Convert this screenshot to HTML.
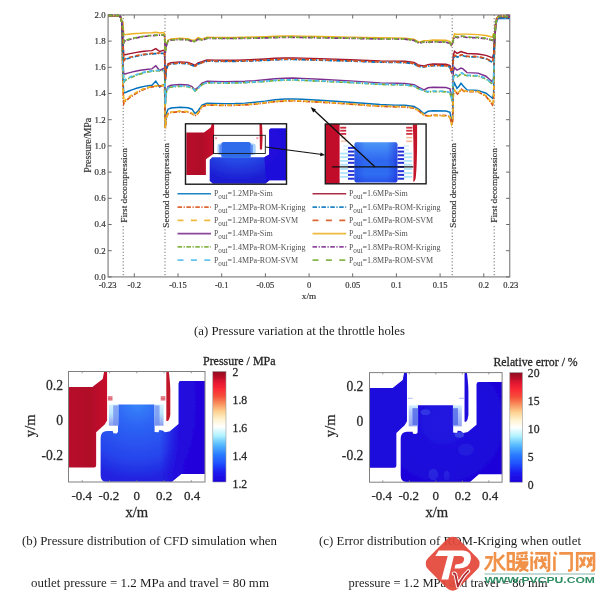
<!DOCTYPE html>
<html><head><meta charset="utf-8"><title>figure</title>
<style>
html,body{margin:0;padding:0;background:#fff;}
body{width:600px;height:595px;overflow:hidden;font-family:"Liberation Serif",serif;}
svg{display:block;font-family:"Liberation Serif",serif;}
</style></head><body>
<svg width="600" height="595" viewBox="0 0 600 595">
<defs>
<filter id="soft" x="0" y="0" width="600" height="595" filterUnits="userSpaceOnUse"><feGaussianBlur stdDeviation="0.45"/></filter>
<linearGradient id="cbB" x1="0" y1="0" x2="0" y2="1">
<stop offset="0" stop-color="#8e0a20"/><stop offset="0.04" stop-color="#b00c26"/><stop offset="0.10" stop-color="#e41830"/>
<stop offset="0.16" stop-color="#fb2c36"/><stop offset="0.22" stop-color="#f64c38"/><stop offset="0.29" stop-color="#f88f5c"/>
<stop offset="0.36" stop-color="#fdd090"/><stop offset="0.43" stop-color="#fff2cc"/><stop offset="0.50" stop-color="#ffffff"/>
<stop offset="0.58" stop-color="#b0f2ff"/><stop offset="0.66" stop-color="#58bcff"/><stop offset="0.75" stop-color="#2a7cff"/>
<stop offset="0.83" stop-color="#2052ff"/><stop offset="0.91" stop-color="#1a1cf0"/><stop offset="1" stop-color="#1c00dc"/></linearGradient>
<radialGradient id="bodyB" cx="0.35" cy="0.22" r="0.75" gradientUnits="objectBoundingBox">
<stop offset="0" stop-color="#3787fa"/><stop offset="0.3" stop-color="#2d64f4"/><stop offset="0.75" stop-color="#2744ec"/><stop offset="1" stop-color="#2024e0"/></radialGradient>
<linearGradient id="rightB" x1="0" y1="0" x2="1" y2="0"><stop offset="0" stop-color="#2004dc" stop-opacity="0"/><stop offset="0.42" stop-color="#2004dc" stop-opacity="0.9"/><stop offset="1" stop-color="#2000da" stop-opacity="0.95"/></linearGradient>
<radialGradient id="bodyC" cx="0.42" cy="0.40" r="0.62">
<stop offset="0" stop-color="#2018e0"/><stop offset="1" stop-color="#1e06da"/></radialGradient>
<linearGradient id="redG" x1="0" y1="0" x2="1" y2="0"><stop offset="0" stop-color="#b80f2b"/><stop offset="0.55" stop-color="#b00b28"/><stop offset="1" stop-color="#c8102c"/></linearGradient>
<linearGradient id="fringeL" x1="0" y1="0" x2="0" y2="1"><stop offset="0" stop-color="#d8f2ff"/><stop offset="0.45" stop-color="#b8e2fb"/><stop offset="1" stop-color="#8f9cf0"/></linearGradient>
<linearGradient id="fringeC" x1="0" y1="0" x2="0" y2="1"><stop offset="0" stop-color="#d4f2ff"/><stop offset="0.3" stop-color="#b4c8fa"/><stop offset="1" stop-color="#95a4f2"/></linearGradient>
<linearGradient id="cageB" x1="0" y1="0" x2="0" y2="1"><stop offset="0" stop-color="#3a78ee"/><stop offset="1" stop-color="#2a55e6"/></linearGradient>
<radialGradient id="in1" cx="0.38" cy="0.25" r="0.7"><stop offset="0" stop-color="#2f6eee"/><stop offset="0.5" stop-color="#2648e4"/><stop offset="1" stop-color="#1c1cd2"/></radialGradient>
<linearGradient id="in2" x1="0" y1="0" x2="0" y2="1"><stop offset="0" stop-color="#4a96f8"/><stop offset="0.45" stop-color="#2f68f0"/><stop offset="0.8" stop-color="#2f6ef2"/><stop offset="1" stop-color="#2a52ea"/></linearGradient>
<linearGradient id="in2h" x1="0" y1="0" x2="1" y2="0"><stop offset="0" stop-color="#1f37da" stop-opacity="0.45"/><stop offset="0.25" stop-color="#1f37da" stop-opacity="0"/><stop offset="0.75" stop-color="#1f37da" stop-opacity="0"/><stop offset="1" stop-color="#1a1ad0" stop-opacity="0.5"/></linearGradient>
</defs>
<rect width="600" height="595" fill="#ffffff"/>
<g id="all" filter="url(#soft)">
<g id="mainplot">
<rect x="108.1" y="14.9" width="401.6" height="262.0" fill="none" stroke="#929292" stroke-width="1.35"/>
<path d="M134.3,276.9 v-3.6 M134.3,14.9 v3.6" stroke="#6a6a6a" stroke-width="1"/>
<path d="M178.0,276.9 v-3.6 M178.0,14.9 v3.6" stroke="#6a6a6a" stroke-width="1"/>
<path d="M221.7,276.9 v-3.6 M221.7,14.9 v3.6" stroke="#6a6a6a" stroke-width="1"/>
<path d="M265.4,276.9 v-3.6 M265.4,14.9 v3.6" stroke="#6a6a6a" stroke-width="1"/>
<path d="M309.1,276.9 v-3.6 M309.1,14.9 v3.6" stroke="#6a6a6a" stroke-width="1"/>
<path d="M352.7,276.9 v-3.6 M352.7,14.9 v3.6" stroke="#6a6a6a" stroke-width="1"/>
<path d="M396.4,276.9 v-3.6 M396.4,14.9 v3.6" stroke="#6a6a6a" stroke-width="1"/>
<path d="M440.1,276.9 v-3.6 M440.1,14.9 v3.6" stroke="#6a6a6a" stroke-width="1"/>
<path d="M483.8,276.9 v-3.6 M483.8,14.9 v3.6" stroke="#6a6a6a" stroke-width="1"/>
<path d="M108.1,276.9 h3.6 M509.7,276.9 h-3.6" stroke="#6a6a6a" stroke-width="1"/>
<path d="M108.1,250.7 h3.6 M509.7,250.7 h-3.6" stroke="#6a6a6a" stroke-width="1"/>
<path d="M108.1,224.5 h3.6 M509.7,224.5 h-3.6" stroke="#6a6a6a" stroke-width="1"/>
<path d="M108.1,198.3 h3.6 M509.7,198.3 h-3.6" stroke="#6a6a6a" stroke-width="1"/>
<path d="M108.1,172.1 h3.6 M509.7,172.1 h-3.6" stroke="#6a6a6a" stroke-width="1"/>
<path d="M108.1,145.9 h3.6 M509.7,145.9 h-3.6" stroke="#6a6a6a" stroke-width="1"/>
<path d="M108.1,119.7 h3.6 M509.7,119.7 h-3.6" stroke="#6a6a6a" stroke-width="1"/>
<path d="M108.1,93.5 h3.6 M509.7,93.5 h-3.6" stroke="#6a6a6a" stroke-width="1"/>
<path d="M108.1,67.3 h3.6 M509.7,67.3 h-3.6" stroke="#6a6a6a" stroke-width="1"/>
<path d="M108.1,41.1 h3.6 M509.7,41.1 h-3.6" stroke="#6a6a6a" stroke-width="1"/>
<path d="M108.1,14.9 h3.6 M509.7,14.9 h-3.6" stroke="#6a6a6a" stroke-width="1"/>
<path d="M123.2,14.9 V276.9" stroke="#808080" stroke-width="1.1" stroke-dasharray="1.2 2"/>
<path d="M165,14.9 V276.9" stroke="#808080" stroke-width="1.1" stroke-dasharray="1.2 2"/>
<path d="M452.2,14.9 V276.9" stroke="#808080" stroke-width="1.1" stroke-dasharray="1.2 2"/>
<path d="M494.2,14.9 V276.9" stroke="#808080" stroke-width="1.1" stroke-dasharray="1.2 2"/>
<path d="M108.5,15.7 L118.3,15.7 L120.3,16.5 L121.8,22.0 L123.0,80.7 L123.8,92.7 L125.0,92.7 L128.8,91.0 L132.7,89.6 L136.6,88.3 L140.4,87.2 L144.2,86.4 L148.1,85.7 L151.9,85.2 L155.8,81.1 L159.7,87.1 L163.5,84.6 L164.6,85.6 L165.3,128.0 L166.2,114.0 L168.0,109.2 L171.0,108.0 L180.0,107.2 L188.0,107.7 L192.0,109.2 L195.0,113.5 L198.0,111.0 L202.0,105.0 L207.0,103.2 L215.0,103.4 L225.0,103.6 L235.0,103.5 L245.0,103.1 L255.0,102.2 L265.0,101.1 L275.0,99.7 L285.0,99.0 L293.0,98.9 L302.0,99.3 L320.0,100.3 L350.0,102.2 L380.0,104.5 L395.0,105.1 L405.0,105.3 L414.0,106.5 L419.0,109.3 L424.0,113.9 L428.0,111.3 L433.0,110.7 L446.0,111.0 L450.0,112.2 L451.6,122.0 L452.6,119.0 L453.3,87.0 L454.5,83.0 L457.0,88.4 L459.0,86.2 L461.0,83.3 L463.0,85.7 L467.0,89.9 L478.0,90.4 L486.0,93.2 L490.0,96.3 L492.5,98.3 L493.6,94.3 L494.6,40.0 L495.6,26.7 L496.8,20.2 L498.5,18.5 L503.0,18.4 L510.0,18.6" stroke="#0072bd" stroke-width="1.45" fill="none"/>
<path d="M108.5,15.7 L118.3,15.7 L120.3,16.5 L121.8,22.0 L123.0,89.7 L123.8,103.7 L125.0,101.7 L128.8,98.4 L132.7,95.5 L136.6,93.1 L140.4,91.0 L144.2,89.3 L148.1,87.9 L151.9,86.9 L155.8,86.3 L159.7,85.9 L163.5,85.8 L164.6,86.8 L165.3,129.0 L166.2,118.5 L168.0,113.7 L171.0,112.5 L180.0,111.7 L188.0,112.2 L192.0,113.7 L195.0,116.0 L198.0,113.5 L202.0,106.8 L207.0,105.0 L215.0,105.2 L225.0,105.4 L235.0,105.3 L245.0,104.9 L255.0,104.1 L265.0,103.0 L275.0,101.7 L285.0,101.0 L293.0,100.9 L302.0,101.3 L320.0,102.2 L350.0,104.1 L380.0,106.3 L395.0,106.8 L405.0,107.0 L414.0,108.2 L419.0,111.0 L424.0,115.3 L428.0,115.8 L433.0,115.2 L446.0,115.5 L450.0,116.7 L451.6,124.5 L452.6,121.5 L453.3,94.6 L454.5,90.6 L457.5,94.0 L459.5,92.0 L461.5,89.2 L464.0,91.3 L467.0,91.5 L478.0,91.8 L486.0,96.3 L490.0,101.5 L492.5,104.8 L493.6,100.8 L494.6,40.0 L495.6,25.9 L496.8,19.4 L498.5,17.7 L503.0,17.6 L510.0,17.8" stroke="#d95319" stroke-width="1.7" stroke-dasharray="4.5 1.5 1.2 1.5" fill="none"/>
<path d="M108.5,15.7 L118.3,15.7 L120.3,16.5 L121.8,22.0 L123.0,88.2 L123.8,102.2 L125.0,100.2 L128.8,97.1 L132.7,94.5 L136.6,92.2 L140.4,90.2 L144.2,88.6 L148.1,87.4 L151.9,86.4 L155.8,85.8 L159.7,85.5 L163.5,85.4 L164.6,86.4 L165.3,128.0 L166.2,118.0 L168.0,113.2 L171.0,112.0 L180.0,111.2 L188.0,111.7 L192.0,113.2 L195.0,115.5 L198.0,113.0 L202.0,106.5 L207.0,104.7 L215.0,104.9 L225.0,105.1 L235.0,105.0 L245.0,104.6 L255.0,103.8 L265.0,102.7 L275.0,101.4 L285.0,100.7 L293.0,100.6 L302.0,101.0 L320.0,101.9 L350.0,103.8 L380.0,106.0 L395.0,106.5 L405.0,106.7 L414.0,107.9 L419.0,110.7 L424.0,115.0 L428.0,116.2 L433.0,115.6 L446.0,115.9 L450.0,117.1 L451.6,124.0 L452.6,121.0 L453.3,94.0 L454.5,90.0 L457.5,93.2 L459.5,91.3 L461.5,88.7 L464.0,90.6 L467.0,91.1 L478.0,91.4 L486.0,95.8 L490.0,100.8 L492.5,104.0 L493.6,100.0 L494.6,40.0 L495.6,25.5 L496.8,19.0 L498.5,17.3 L503.0,17.2 L510.0,17.4" stroke="#edb120" stroke-width="1.7" stroke-dasharray="4 3" fill="none"/>
<path d="M108.5,15.7 L118.3,15.7 L120.3,16.5 L121.8,22.0 L123.0,62.0 L123.8,74.0 L125.0,74.0 L128.8,72.9 L132.7,71.9 L136.6,71.0 L140.4,70.3 L144.2,69.7 L148.1,69.2 L151.9,68.9 L155.8,65.7 L159.7,70.5 L163.5,68.5 L164.6,69.5 L165.3,104.0 L166.2,91.3 L168.0,86.5 L171.0,85.3 L180.0,84.5 L188.0,85.0 L192.0,86.5 L195.0,89.9 L198.0,87.4 L202.0,83.1 L207.0,81.3 L215.0,81.5 L225.0,81.6 L235.0,81.5 L245.0,81.2 L255.0,80.6 L265.0,79.7 L275.0,78.7 L285.0,78.2 L293.0,78.1 L302.0,78.4 L320.0,79.3 L350.0,80.9 L380.0,82.9 L395.0,83.3 L405.0,83.5 L414.0,84.7 L419.0,87.5 L424.0,89.9 L428.0,87.8 L433.0,87.2 L446.0,87.5 L450.0,88.7 L451.6,97.0 L452.6,94.0 L453.3,71.7 L454.5,67.7 L457.0,70.1 L459.0,69.1 L461.0,68.0 L463.0,68.9 L467.0,72.6 L478.0,73.1 L486.0,76.2 L490.0,79.7 L492.5,81.9 L493.6,77.9 L494.6,40.0 L495.6,25.9 L496.8,19.4 L498.5,17.7 L503.0,17.6 L510.0,17.8" stroke="#7e2f8e" stroke-width="1.45" fill="none"/>
<path d="M108.5,15.7 L118.3,15.7 L120.3,16.5 L121.8,22.0 L123.0,68.6 L123.8,82.6 L125.0,80.6 L128.8,78.5 L132.7,76.7 L136.6,75.2 L140.4,73.9 L144.2,72.8 L148.1,71.9 L151.9,71.3 L155.8,70.9 L159.7,70.7 L163.5,70.6 L164.6,71.6 L165.3,105.0 L166.2,93.0 L168.0,88.2 L171.0,87.0 L180.0,86.2 L188.0,86.7 L192.0,88.2 L195.0,91.0 L198.0,88.5 L202.0,84.6 L207.0,82.8 L215.0,83.0 L225.0,83.1 L235.0,83.0 L245.0,82.7 L255.0,82.2 L265.0,81.5 L275.0,80.6 L285.0,80.2 L293.0,80.1 L302.0,80.4 L320.0,81.2 L350.0,82.6 L380.0,84.4 L395.0,84.8 L405.0,85.0 L414.0,86.2 L419.0,89.0 L424.0,91.0 L428.0,92.1 L433.0,91.5 L446.0,91.8 L450.0,93.0 L451.6,99.0 L452.6,96.0 L453.3,78.2 L454.5,74.2 L457.5,76.6 L459.5,75.2 L461.5,73.2 L464.0,74.7 L467.0,75.7 L478.0,76.0 L486.0,78.9 L490.0,82.2 L492.5,84.2 L493.6,80.2 L494.6,40.0 L495.6,24.7 L496.8,18.2 L498.5,16.5 L503.0,16.4 L510.0,16.6" stroke="#77ac30" stroke-width="1.7" stroke-dasharray="4.5 1.5 1.2 1.5" fill="none"/>
<path d="M108.5,15.7 L118.3,15.7 L120.3,16.5 L121.8,22.0 L123.0,67.6 L123.8,81.6 L125.0,79.6 L128.8,77.7 L132.7,76.0 L136.6,74.5 L140.4,73.3 L144.2,72.2 L148.1,71.5 L151.9,70.9 L155.8,70.5 L159.7,70.3 L163.5,70.2 L164.6,71.2 L165.3,104.0 L166.2,92.6 L168.0,87.8 L171.0,86.6 L180.0,85.8 L188.0,86.3 L192.0,87.8 L195.0,90.6 L198.0,88.1 L202.0,84.3 L207.0,82.5 L215.0,82.7 L225.0,82.8 L235.0,82.7 L245.0,82.4 L255.0,81.9 L265.0,81.2 L275.0,80.3 L285.0,79.9 L293.0,79.8 L302.0,80.1 L320.0,80.9 L350.0,82.3 L380.0,84.1 L395.0,84.5 L405.0,84.7 L414.0,85.9 L419.0,88.7 L424.0,90.7 L428.0,91.6 L433.0,91.0 L446.0,91.3 L450.0,92.5 L451.6,98.0 L452.6,95.0 L453.3,77.6 L454.5,73.6 L457.5,75.8 L459.5,74.5 L461.5,72.7 L464.0,74.0 L467.0,75.3 L478.0,75.6 L486.0,78.4 L490.0,81.6 L492.5,83.6 L493.6,79.6 L494.6,40.0 L495.6,26.3 L496.8,19.8 L498.5,18.1 L503.0,18.0 L510.0,18.2" stroke="#4dbeee" stroke-width="1.7" stroke-dasharray="4 3" fill="none"/>
<path d="M108.5,15.7 L118.3,15.7 L120.3,16.5 L121.8,22.0 L123.0,42.8 L123.8,54.8 L125.0,54.8 L128.8,53.9 L132.7,53.1 L136.6,52.4 L140.4,51.8 L144.2,51.3 L148.1,50.9 L151.9,50.6 L155.8,48.6 L159.7,51.5 L163.5,50.3 L164.6,51.3 L165.3,80.0 L166.2,68.7 L168.0,63.9 L171.0,62.7 L180.0,61.9 L188.0,62.4 L192.0,63.9 L195.0,65.3 L198.0,62.8 L202.0,61.8 L207.0,60.0 L215.0,60.1 L225.0,60.2 L235.0,60.2 L245.0,59.9 L255.0,59.5 L265.0,59.0 L275.0,58.3 L285.0,58.0 L293.0,57.9 L302.0,58.1 L320.0,58.6 L350.0,59.7 L380.0,60.9 L395.0,61.1 L405.0,61.3 L414.0,62.5 L419.0,65.3 L424.0,65.9 L428.0,64.6 L433.0,64.0 L446.0,64.3 L450.0,65.5 L451.6,72.0 L452.6,69.0 L453.3,55.3 L454.5,51.3 L457.0,53.3 L459.0,52.5 L461.0,51.6 L463.0,52.3 L467.0,53.5 L478.0,54.0 L486.0,55.4 L490.0,56.9 L492.5,57.9 L493.6,53.9 L494.6,40.0 L495.6,25.1 L496.8,18.6 L498.5,16.9 L503.0,16.8 L510.0,17.0" stroke="#a2142f" stroke-width="1.45" fill="none"/>
<path d="M108.5,15.7 L118.3,15.7 L120.3,16.5 L121.8,22.0 L123.0,47.4 L123.8,61.4 L125.0,59.4 L128.8,58.2 L132.7,57.1 L136.6,56.1 L140.4,55.4 L144.2,54.7 L148.1,54.2 L151.9,53.8 L155.8,53.6 L159.7,53.4 L163.5,53.4 L164.6,54.4 L165.3,81.0 L166.2,70.0 L168.0,65.2 L171.0,64.0 L180.0,63.2 L188.0,63.7 L192.0,65.2 L195.0,66.5 L198.0,64.0 L202.0,63.0 L207.0,61.2 L215.0,61.3 L225.0,61.4 L235.0,61.3 L245.0,61.2 L255.0,60.8 L265.0,60.4 L275.0,59.8 L285.0,59.5 L293.0,59.5 L302.0,59.7 L320.0,60.2 L350.0,61.1 L380.0,62.2 L395.0,62.4 L405.0,62.6 L414.0,63.8 L419.0,66.6 L424.0,67.0 L428.0,66.2 L433.0,65.6 L446.0,65.9 L450.0,67.1 L451.6,73.0 L452.6,70.0 L453.3,59.7 L454.5,55.7 L457.5,57.1 L459.5,56.3 L461.5,55.1 L464.0,56.0 L467.0,56.7 L478.0,57.0 L486.0,58.8 L490.0,60.9 L492.5,62.2 L493.6,58.2 L494.6,40.0 L495.6,26.1 L496.8,19.6 L498.5,17.9 L503.0,17.8 L510.0,18.0" stroke="#0072bd" stroke-width="1.7" stroke-dasharray="4.5 1.5 1.2 1.5" fill="none"/>
<path d="M108.5,15.7 L118.3,15.7 L120.3,16.5 L121.8,22.0 L123.0,46.8 L123.8,60.8 L125.0,58.8 L128.8,57.6 L132.7,56.5 L136.6,55.6 L140.4,54.9 L144.2,54.3 L148.1,53.8 L151.9,53.4 L155.8,53.2 L159.7,53.0 L163.5,53.0 L164.6,54.0 L165.3,80.0 L166.2,69.7 L168.0,64.9 L171.0,63.7 L180.0,62.9 L188.0,63.4 L192.0,64.9 L195.0,66.2 L198.0,63.7 L202.0,62.7 L207.0,60.9 L215.0,61.0 L225.0,61.1 L235.0,61.0 L245.0,60.9 L255.0,60.5 L265.0,60.1 L275.0,59.5 L285.0,59.2 L293.0,59.2 L302.0,59.4 L320.0,59.9 L350.0,60.8 L380.0,61.9 L395.0,62.1 L405.0,62.3 L414.0,63.5 L419.0,66.3 L424.0,66.7 L428.0,65.9 L433.0,65.3 L446.0,65.6 L450.0,66.8 L451.6,72.5 L452.6,69.5 L453.3,59.2 L454.5,55.2 L457.5,56.5 L459.5,55.7 L461.5,54.7 L464.0,55.5 L467.0,56.3 L478.0,56.6 L486.0,58.4 L490.0,60.4 L492.5,61.6 L493.6,57.6 L494.6,40.0 L495.6,24.9 L496.8,18.4 L498.5,16.7 L503.0,16.6 L510.0,16.8" stroke="#d95319" stroke-width="1.7" stroke-dasharray="4 3" fill="none"/>
<path d="M108.5,15.7 L118.3,15.7 L120.3,16.5 L121.8,22.0 L123.0,22.6 L123.8,34.6 L125.0,34.6 L128.8,34.2 L132.7,33.8 L136.6,33.5 L140.4,33.3 L144.2,33.0 L148.1,32.9 L151.9,32.7 L155.8,32.2 L159.7,32.9 L163.5,32.6 L164.6,33.6 L165.3,52.0 L166.2,45.0 L168.0,40.2 L171.0,39.0 L180.0,38.2 L188.0,38.7 L192.0,40.2 L195.0,40.0 L198.0,37.5 L202.0,39.1 L207.0,37.3 L215.0,37.4 L225.0,37.4 L235.0,37.4 L245.0,37.3 L255.0,37.0 L265.0,36.7 L275.0,36.2 L285.0,36.0 L293.0,36.0 L302.0,36.1 L320.0,36.5 L350.0,37.1 L380.0,37.8 L395.0,37.9 L405.0,38.1 L414.0,39.3 L419.0,42.1 L424.0,40.8 L428.0,40.6 L433.0,40.0 L446.0,40.3 L450.0,41.5 L451.6,45.0 L452.6,42.0 L453.3,37.8 L454.5,33.8 L457.0,34.4 L459.0,34.2 L461.0,34.1 L463.0,34.1 L467.0,34.1 L478.0,34.6 L486.0,35.5 L490.0,36.5 L492.5,37.1 L493.6,33.1 L494.6,40.0 L495.6,24.5 L496.8,18.0 L498.5,16.3 L503.0,16.2 L510.0,16.4" stroke="#edb120" stroke-width="1.45" fill="none"/>
<path d="M108.5,15.7 L118.3,15.7 L120.3,16.5 L121.8,22.0 L123.0,29.0 L123.8,43.0 L125.0,41.0 L128.8,39.8 L132.7,38.7 L136.6,37.8 L140.4,37.1 L144.2,36.5 L148.1,36.0 L151.9,35.6 L155.8,35.4 L159.7,35.2 L163.5,35.2 L164.6,36.2 L165.3,53.0 L166.2,46.2 L168.0,41.4 L171.0,40.2 L180.0,39.4 L188.0,39.9 L192.0,41.4 L195.0,41.6 L198.0,39.1 L202.0,40.2 L207.0,38.4 L215.0,38.5 L225.0,38.5 L235.0,38.5 L245.0,38.4 L255.0,38.2 L265.0,37.9 L275.0,37.6 L285.0,37.4 L293.0,37.4 L302.0,37.5 L320.0,37.8 L350.0,38.3 L380.0,39.0 L395.0,39.0 L405.0,39.2 L414.0,40.4 L419.0,43.2 L424.0,42.0 L428.0,42.5 L433.0,41.9 L446.0,42.2 L450.0,43.4 L451.6,46.0 L452.6,43.0 L453.3,40.7 L454.5,36.7 L457.5,37.5 L459.5,37.0 L461.5,36.4 L464.0,36.9 L467.0,37.5 L478.0,37.8 L486.0,38.7 L490.0,39.8 L492.5,40.4 L493.6,36.4 L494.6,40.0 L495.6,24.3 L496.8,17.8 L498.5,16.1 L503.0,16.0 L510.0,16.2" stroke="#7e2f8e" stroke-width="1.7" stroke-dasharray="4.5 1.5 1.2 1.5" fill="none"/>
<path d="M108.5,15.7 L118.3,15.7 L120.3,16.5 L121.8,22.0 L123.0,28.4 L123.8,42.4 L125.0,40.4 L128.8,39.3 L132.7,38.3 L136.6,37.5 L140.4,36.8 L144.2,36.2 L148.1,35.7 L151.9,35.4 L155.8,35.2 L159.7,35.0 L163.5,35.0 L164.6,36.0 L165.3,52.0 L166.2,46.0 L168.0,41.2 L171.0,40.0 L180.0,39.2 L188.0,39.7 L192.0,41.2 L195.0,41.3 L198.0,38.8 L202.0,40.0 L207.0,38.2 L215.0,38.3 L225.0,38.3 L235.0,38.3 L245.0,38.2 L255.0,38.0 L265.0,37.7 L275.0,37.4 L285.0,37.2 L293.0,37.2 L302.0,37.3 L320.0,37.6 L350.0,38.1 L380.0,38.8 L395.0,38.8 L405.0,39.0 L414.0,40.2 L419.0,43.0 L424.0,41.7 L428.0,42.2 L433.0,41.6 L446.0,41.9 L450.0,43.1 L451.6,45.5 L452.6,42.5 L453.3,40.3 L454.5,36.3 L457.5,37.0 L459.5,36.6 L461.5,36.0 L464.0,36.4 L467.0,37.1 L478.0,37.4 L486.0,38.3 L490.0,39.4 L492.5,40.0 L493.6,36.0 L494.6,40.0 L495.6,24.7 L496.8,18.2 L498.5,16.5 L503.0,16.4 L510.0,16.6" stroke="#77ac30" stroke-width="1.7" stroke-dasharray="4 3" fill="none"/>
<text x="105.6" y="279.8" text-anchor="end" font-size="8.8" fill="#333333" stroke="#333333" stroke-width="0.18">0.0</text>
<text x="105.6" y="253.6" text-anchor="end" font-size="8.8" fill="#333333" stroke="#333333" stroke-width="0.18">0.2</text>
<text x="105.6" y="227.4" text-anchor="end" font-size="8.8" fill="#333333" stroke="#333333" stroke-width="0.18">0.4</text>
<text x="105.6" y="201.2" text-anchor="end" font-size="8.8" fill="#333333" stroke="#333333" stroke-width="0.18">0.6</text>
<text x="105.6" y="175.0" text-anchor="end" font-size="8.8" fill="#333333" stroke="#333333" stroke-width="0.18">0.8</text>
<text x="105.6" y="148.8" text-anchor="end" font-size="8.8" fill="#333333" stroke="#333333" stroke-width="0.18">1.0</text>
<text x="105.6" y="122.6" text-anchor="end" font-size="8.8" fill="#333333" stroke="#333333" stroke-width="0.18">1.2</text>
<text x="105.6" y="96.4" text-anchor="end" font-size="8.8" fill="#333333" stroke="#333333" stroke-width="0.18">1.4</text>
<text x="105.6" y="70.2" text-anchor="end" font-size="8.8" fill="#333333" stroke="#333333" stroke-width="0.18">1.6</text>
<text x="105.6" y="44.0" text-anchor="end" font-size="8.8" fill="#333333" stroke="#333333" stroke-width="0.18">1.8</text>
<text x="105.6" y="17.8" text-anchor="end" font-size="8.8" fill="#333333" stroke="#333333" stroke-width="0.18">2.0</text>
<text x="107.6" y="287.7" text-anchor="middle" font-size="8.5" fill="#333333" stroke="#333333" stroke-width="0.18">-0.23</text>
<text x="134.3" y="287.7" text-anchor="middle" font-size="8.5" fill="#333333" stroke="#333333" stroke-width="0.18">-0.2</text>
<text x="178.0" y="287.7" text-anchor="middle" font-size="8.5" fill="#333333" stroke="#333333" stroke-width="0.18">-0.15</text>
<text x="221.7" y="287.7" text-anchor="middle" font-size="8.5" fill="#333333" stroke="#333333" stroke-width="0.18">-0.1</text>
<text x="265.4" y="287.7" text-anchor="middle" font-size="8.5" fill="#333333" stroke="#333333" stroke-width="0.18">-0.05</text>
<text x="309.1" y="287.7" text-anchor="middle" font-size="8.5" fill="#333333" stroke="#333333" stroke-width="0.18">0</text>
<text x="352.7" y="287.7" text-anchor="middle" font-size="8.5" fill="#333333" stroke="#333333" stroke-width="0.18">0.05</text>
<text x="396.4" y="287.7" text-anchor="middle" font-size="8.5" fill="#333333" stroke="#333333" stroke-width="0.18">0.1</text>
<text x="440.1" y="287.7" text-anchor="middle" font-size="8.5" fill="#333333" stroke="#333333" stroke-width="0.18">0.15</text>
<text x="483.8" y="287.7" text-anchor="middle" font-size="8.5" fill="#333333" stroke="#333333" stroke-width="0.18">0.2</text>
<text x="510.8" y="287.7" text-anchor="middle" font-size="8.5" fill="#333333" stroke="#333333" stroke-width="0.18">0.23</text>
<text x="309" y="299.3" text-anchor="middle" font-size="9.2" fill="#333333" stroke="#333333" stroke-width="0.18">x/m</text>
<text transform="translate(91.2,145.3) rotate(-90)" text-anchor="middle" font-size="9.9" fill="#333333" stroke="#333333" stroke-width="0.18">Pressure/MPa</text>
<rect x="119.6" y="147.0" width="9" height="76.9" fill="#fff"/>
<text transform="translate(126.8,185.4) rotate(-90)" text-anchor="middle" font-size="9.25" fill="#333333" stroke="#333333" stroke-width="0.18" textLength="74.5" lengthAdjust="spacingAndGlyphs">First decompression</text>
<rect x="161.70000000000002" y="142.0" width="9" height="86.9" fill="#fff"/>
<text transform="translate(168.9,185.4) rotate(-90)" text-anchor="middle" font-size="9.25" fill="#333333" stroke="#333333" stroke-width="0.18" textLength="84.5" lengthAdjust="spacingAndGlyphs">Second decompression</text>
<rect x="448.3" y="142.0" width="9" height="86.9" fill="#fff"/>
<text transform="translate(455.5,185.4) rotate(-90)" text-anchor="middle" font-size="9.25" fill="#333333" stroke="#333333" stroke-width="0.18" textLength="84.5" lengthAdjust="spacingAndGlyphs">Second decompression</text>
<rect x="489.5" y="147.0" width="9" height="76.9" fill="#fff"/>
<text transform="translate(496.7,185.4) rotate(-90)" text-anchor="middle" font-size="9.25" fill="#333333" stroke="#333333" stroke-width="0.18" textLength="74.5" lengthAdjust="spacingAndGlyphs">First decompression</text>
<path d="M177.5,193.8 H211" stroke="#0072bd" stroke-width="1.6" opacity="0.88"/>
<text x="213.9" y="196.4" font-size="8.0" fill="#505050">P<tspan font-size="7.2" dy="3.0">out</tspan><tspan dy="-3.0">=1.2MPa-Sim</tspan></text>
<path d="M177.5,207.1 H211" stroke="#d95319" stroke-width="1.6" opacity="0.88" stroke-dasharray="4.5 1.6 1.2 1.6"/>
<text x="213.9" y="209.7" font-size="8.0" fill="#505050">P<tspan font-size="7.2" dy="3.0">out</tspan><tspan dy="-3.0">=1.2MPa-ROM-Kriging</tspan></text>
<path d="M177.5,220.4 H211" stroke="#edb120" stroke-width="1.6" opacity="0.88" stroke-dasharray="6 7.4"/>
<text x="213.9" y="223.0" font-size="8.0" fill="#505050">P<tspan font-size="7.2" dy="3.0">out</tspan><tspan dy="-3.0">=1.2MPa-ROM-SVM</tspan></text>
<path d="M177.5,233.6 H211" stroke="#7e2f8e" stroke-width="1.6" opacity="0.88"/>
<text x="213.9" y="236.2" font-size="8.0" fill="#505050">P<tspan font-size="7.2" dy="3.0">out</tspan><tspan dy="-3.0">=1.4MPa-Sim</tspan></text>
<path d="M177.5,246.9 H211" stroke="#77ac30" stroke-width="1.6" opacity="0.88" stroke-dasharray="4.5 1.6 1.2 1.6"/>
<text x="213.9" y="249.5" font-size="8.0" fill="#505050">P<tspan font-size="7.2" dy="3.0">out</tspan><tspan dy="-3.0">=1.4MPa-ROM-Kriging</tspan></text>
<path d="M177.5,260.1 H211" stroke="#4dbeee" stroke-width="1.6" opacity="0.88" stroke-dasharray="6 7.4"/>
<text x="213.9" y="262.7" font-size="8.0" fill="#505050">P<tspan font-size="7.2" dy="3.0">out</tspan><tspan dy="-3.0">=1.4MPa-ROM-SVM</tspan></text>
<path d="M312.5,193.8 H346.2" stroke="#a2142f" stroke-width="1.6" opacity="0.88"/>
<text x="348.9" y="196.4" font-size="8.0" fill="#505050">P<tspan font-size="7.2" dy="3.0">out</tspan><tspan dy="-3.0">=1.6MPa-Sim</tspan></text>
<path d="M312.5,207.1 H346.2" stroke="#0072bd" stroke-width="1.6" opacity="0.88" stroke-dasharray="4.5 1.6 1.2 1.6"/>
<text x="348.9" y="209.7" font-size="8.0" fill="#505050">P<tspan font-size="7.2" dy="3.0">out</tspan><tspan dy="-3.0">=1.6MPa-ROM-Kriging</tspan></text>
<path d="M312.5,220.4 H346.2" stroke="#d95319" stroke-width="1.6" opacity="0.88" stroke-dasharray="6 7.4"/>
<text x="348.9" y="223.0" font-size="8.0" fill="#505050">P<tspan font-size="7.2" dy="3.0">out</tspan><tspan dy="-3.0">=1.6MPa-ROM-SVM</tspan></text>
<path d="M312.5,233.6 H346.2" stroke="#edb120" stroke-width="1.6" opacity="0.88"/>
<text x="348.9" y="236.2" font-size="8.0" fill="#505050">P<tspan font-size="7.2" dy="3.0">out</tspan><tspan dy="-3.0">=1.8MPa-Sim</tspan></text>
<path d="M312.5,246.9 H346.2" stroke="#7e2f8e" stroke-width="1.6" opacity="0.88" stroke-dasharray="4.5 1.6 1.2 1.6"/>
<text x="348.9" y="249.5" font-size="8.0" fill="#505050">P<tspan font-size="7.2" dy="3.0">out</tspan><tspan dy="-3.0">=1.8MPa-ROM-Kriging</tspan></text>
<path d="M312.5,260.1 H346.2" stroke="#77ac30" stroke-width="1.6" opacity="0.88" stroke-dasharray="6 7.4"/>
<text x="348.9" y="262.7" font-size="8.0" fill="#505050">P<tspan font-size="7.2" dy="3.0">out</tspan><tspan dy="-3.0">=1.8MPa-ROM-SVM</tspan></text>
</g>
<g id="insets">
<rect x="185.5" y="123.8" width="101.0" height="60.4" fill="#fff"/>
<path d="M186.3,132.4 L204.0,132.4 L210.7,127.6 L211.8,124.1 L214.1,124.1 L214.1,153.5 L205.9,159.2 L205.9,175.1 L186.3,175.1 Z" fill="url(#redG)"/>
<path d="M259.5,124.1 L262.0,124.1 L262.6,137.2 L262.0,149.6 L259.9,149.6 Z" fill="#c0142a"/>
<path d="M212.2,157.3 L264.3,157.3 L269.1,154.4 L269.1,129.9 L270.5,128.5 L286.0,128.5 L286.0,180.3 L269.5,180.3 L265.3,183.7 L213.0,183.7 L209.7,180.9 L209.7,159.8 Z" fill="url(#in1)"/>
<path d="M269.1,154.4 L269.1,129.9 L270.5,128.5 L286.0,128.5 L286.0,180.3 L269.5,180.3 L266.3,182.8 L264.3,157.3 Z" fill="#2004dc" opacity="0.85"/>
<rect x="217.4" y="143.5" width="38.3" height="11.5" rx="2.5" fill="#a9d4fb"/>
<rect x="221.2" y="142.0" width="29.7" height="15.7" rx="2.5" fill="#2f6cec"/>
<rect x="219.3" y="144.8" width="2.3" height="9.6" fill="#5f8cf2"/>
<rect x="250.5" y="144.8" width="2.3" height="9.6" fill="#5f8cf2"/>
<rect x="215.1" y="137.2" width="2" height="2" fill="#ee9aa4"/>
<rect x="256.3" y="137.2" width="2" height="2" fill="#ee9aa4"/>
<rect x="185.5" y="123.8" width="101.0" height="60.4" fill="none" stroke="#1c1c1c" stroke-width="1.4"/>
<rect x="213.5" y="135.3" width="51.8" height="18.2" fill="none" stroke="#1a1a1a" stroke-width="0.9"/>
<path d="M265.4,147 L322,154.5" stroke="#111" stroke-width="1.2"/>
<path d="M325,155 L320.6,152.4 L320.1,156.2 Z" fill="#111"/>
<rect x="325.3" y="124.0" width="100.8" height="59.8" fill="#fff"/>
<rect x="325.6" y="124.0" width="14.0" height="59.8" fill="#c20a2c"/>
<rect x="340.2" y="126.8" width="6" height="1.8" fill="#cc2a3c"/>
<rect x="406.2" y="126.8" width="6.2" height="1.8" fill="#cf3440"/>
<rect x="340.2" y="129.8" width="6" height="1.8" fill="#cc2a3c"/>
<rect x="406.2" y="129.8" width="6.2" height="1.8" fill="#cf3440"/>
<rect x="340.2" y="133.0" width="6" height="1.8" fill="#cc2a3c"/>
<rect x="406.2" y="133.0" width="6.2" height="1.8" fill="#cf3440"/>
<rect x="340.9" y="136.8" width="5.4" height="1.6" fill="#f6c9b4"/>
<rect x="406.2" y="136.8" width="6" height="1.6" fill="#f3b79a"/>
<rect x="340.9" y="140.5" width="5.4" height="1.6" fill="#f6c9b4"/>
<rect x="406.2" y="140.5" width="6" height="1.6" fill="#f3b79a"/>
<path d="M412.8,124.5 L417.1,124.5 Q417.4,164.7 415.6,178.7 Q414.5,182.4 413.3,181.5 Q414.1,155.3 412.8,124.5 Z" fill="#c4162c"/>
<rect x="348.0" y="146.9" width="6.6" height="2.0" fill="#2230d8"/>
<rect x="397.5" y="146.9" width="6.6" height="2.0" fill="#2230d8"/>
<rect x="348.0" y="150.6" width="6.6" height="2.0" fill="#2230d8"/>
<rect x="397.5" y="150.6" width="6.6" height="2.0" fill="#2230d8"/>
<rect x="348.0" y="154.3" width="6.6" height="2.0" fill="#2230d8"/>
<rect x="397.5" y="154.3" width="6.6" height="2.0" fill="#2230d8"/>
<rect x="348.0" y="158.1" width="6.6" height="2.0" fill="#2230d8"/>
<rect x="397.5" y="158.1" width="6.6" height="2.0" fill="#2230d8"/>
<rect x="348.0" y="161.8" width="6.6" height="2.0" fill="#2230d8"/>
<rect x="397.5" y="161.8" width="6.6" height="2.0" fill="#2230d8"/>
<rect x="348.0" y="165.9" width="6.6" height="2.0" fill="#2230d8"/>
<rect x="397.5" y="165.9" width="6.6" height="2.0" fill="#2230d8"/>
<rect x="348.0" y="170.2" width="6.6" height="2.0" fill="#2230d8"/>
<rect x="397.5" y="170.2" width="6.6" height="2.0" fill="#2230d8"/>
<rect x="348.0" y="173.9" width="6.6" height="2.0" fill="#2230d8"/>
<rect x="397.5" y="173.9" width="6.6" height="2.0" fill="#2230d8"/>
<rect x="348.0" y="177.7" width="6.6" height="2.0" fill="#2230d8"/>
<rect x="397.5" y="177.7" width="6.6" height="2.0" fill="#2230d8"/>
<rect x="343.3" y="145.2" width="5" height="1.6" fill="#d6effc"/>
<rect x="404.0" y="145.2" width="5" height="1.6" fill="#d6effc"/>
<rect x="343.3" y="148.9" width="5" height="1.6" fill="#d6effc"/>
<rect x="404.0" y="148.9" width="5" height="1.6" fill="#d6effc"/>
<rect x="340.2" y="152.6" width="8" height="1.8" fill="#aee3fa"/>
<rect x="404.0" y="152.6" width="8.2" height="1.8" fill="#aee3fa"/>
<rect x="340.2" y="156.3" width="8" height="1.8" fill="#aee3fa"/>
<rect x="404.0" y="156.3" width="8.2" height="1.8" fill="#aee3fa"/>
<rect x="340.2" y="160.0" width="8" height="1.8" fill="#aee3fa"/>
<rect x="404.0" y="160.0" width="8.2" height="1.8" fill="#aee3fa"/>
<rect x="340.2" y="163.8" width="8" height="1.8" fill="#aee3fa"/>
<rect x="404.0" y="163.8" width="8.2" height="1.8" fill="#aee3fa"/>
<rect x="340.2" y="168.1" width="8" height="1.8" fill="#aee3fa"/>
<rect x="404.0" y="168.1" width="8.2" height="1.8" fill="#aee3fa"/>
<rect x="340.2" y="172.2" width="8" height="1.8" fill="#aee3fa"/>
<rect x="404.0" y="172.2" width="8.2" height="1.8" fill="#aee3fa"/>
<rect x="340.2" y="175.9" width="8" height="1.8" fill="#aee3fa"/>
<rect x="404.0" y="175.9" width="8.2" height="1.8" fill="#aee3fa"/>
<rect x="354.5" y="142.3" width="42.9" height="40.1" rx="2" fill="url(#in2)"/>
<rect x="354.5" y="142.3" width="42.9" height="40.1" rx="2" fill="url(#in2h)"/>
<path d="M332.1,166.9 H413.3" stroke="#111" stroke-width="1.1"/>
<path d="M375.1,166.9 L313,109.2" stroke="#111" stroke-width="1.3"/>
<path d="M310.6,107 L316.0,109.6 L313.2,112.6 Z" fill="#111"/>
<rect x="325.3" y="124.0" width="100.8" height="59.8" fill="none" stroke="#1c1c1c" stroke-width="1.4"/>
</g>
<g id="bottom">
<g transform="translate(68.5,371.5) scale(0.9942,0.9964)"><path d="M0,15.5 L24,15.5 L34.4,7.5 L35.8,0.3 L38.8,0.3 L38.8,49.3 L36.4,53.3 L27.8,61.0 L27.8,94.3 Q27.8,96.3 25.6,96.3 L0,96.3 Z" fill="url(#redG)"/>
<path d="M98.4,0.3 L100.9,0.3 Q102.4,12 102.4,20 L102.4,43 Q101.5,49.5 99.5,49.8 L98.4,49.8 Z" fill="#c0142a"/>
<path d="M50,33 L86.6,33 L86.6,60.6 L90.5,61 L91.4,58.8 L94.5,59.2 L97,61 L101.7,60.1 L110.8,52.7 L110.8,12 Q110.8,9.6 113.2,9.6 L137.3,9.6 L137.3,102.9 L113.3,102.9 L104,110.6 L38,110.6 Q32.3,110.6 32.3,104 L32.3,67 Q32.3,59.8 39,59.8 L44.5,59.8 L45.2,62 L48.4,62.2 L49.8,60.5 L49.8,54.6 Z" fill="url(#bodyB)"/>
<clipPath id="clipB"><path d="M50,33 L86.6,33 L86.6,60.6 L90.5,61 L91.4,58.8 L94.5,59.2 L97,61 L101.7,60.1 L110.8,52.7 L110.8,12 Q110.8,9.6 113.2,9.6 L137.3,9.6 L137.3,102.9 L113.3,102.9 L104,110.6 L38,110.6 Q32.3,110.6 32.3,104 L32.3,67 Q32.3,59.8 39,59.8 L44.5,59.8 L45.2,62 L48.4,62.2 L49.8,60.5 L49.8,54.6 Z"/></clipPath>
<rect x="92" y="0" width="48" height="112" fill="url(#rightB)" clip-path="url(#clipB)"/>
<rect x="40.6" y="33" width="9.6" height="21.4" fill="url(#fringeL)"/>
<rect x="86.4" y="33" width="9.2" height="21.4" fill="url(#fringeL)"/>
<rect x="45" y="34" width="5.4" height="20" fill="#6f8ff0" opacity="0.75"/>
<rect x="86.4" y="34" width="5.2" height="20" fill="#6f8ff0" opacity="0.75"/>
<rect x="39.6" y="24.6" width="4.6" height="4.6" fill="#f1b3bb"/>
<path d="M39.6,25.6 h4.6 M39.6,27 h4.6 M39.6,28.4 h4.6" stroke="#d23a4a" stroke-width="0.7"/>
<rect x="92.8" y="24.6" width="4.6" height="4.6" fill="#f1b3bb"/>
<path d="M92.8,25.6 h4.6 M92.8,27 h4.6 M92.8,28.4 h4.6" stroke="#d23a4a" stroke-width="0.7"/></g>
<rect x="68.5" y="371.5" width="136.5" height="110.5" fill="none" stroke="#808080" stroke-width="1"/>
<path d="M82.2,482.0 v-1.8 M82.2,371.5 v1.8" stroke="#808080" stroke-width="0.8"/>
<path d="M109.5,482.0 v-1.8 M109.5,371.5 v1.8" stroke="#808080" stroke-width="0.8"/>
<path d="M136.8,482.0 v-1.8 M136.8,371.5 v1.8" stroke="#808080" stroke-width="0.8"/>
<path d="M164.1,482.0 v-1.8 M164.1,371.5 v1.8" stroke="#808080" stroke-width="0.8"/>
<path d="M191.3,482.0 v-1.8 M191.3,371.5 v1.8" stroke="#808080" stroke-width="0.8"/>
<rect x="212.8" y="371.5" width="13.2" height="110.5" fill="url(#cbB)" stroke="#999" stroke-width="0.6"/>
<text x="232.6" y="375.7" font-size="11.7" fill="#2a2a2a" stroke="#2a2a2a" stroke-width="0.28">2</text>
<text x="232.6" y="403.7" font-size="11.7" fill="#2a2a2a" stroke="#2a2a2a" stroke-width="0.28">1.8</text>
<text x="232.6" y="431.6" font-size="11.7" fill="#2a2a2a" stroke="#2a2a2a" stroke-width="0.28">1.6</text>
<text x="232.6" y="459.6" font-size="11.7" fill="#2a2a2a" stroke="#2a2a2a" stroke-width="0.28">1.4</text>
<text x="232.6" y="487.5" font-size="11.7" fill="#2a2a2a" stroke="#2a2a2a" stroke-width="0.28">1.2</text>
<text x="239.3" y="364.8" font-size="12" fill="#262626" stroke="#262626" stroke-width="0.28" text-anchor="middle">Pressure / MPa</text>
<g transform="translate(369.5,372.6) scale(0.9658,0.9883)"><path d="M0,15.5 L24,15.5 L34.4,7.5 L35.8,0.3 L38.8,0.3 L38.8,49.3 L36.4,53.3 L27.8,61.0 L27.8,94.3 Q27.8,96.3 25.6,96.3 L0,96.3 Z" fill="#1e08dc"/>
<path d="M98.4,0.3 L100.9,0.3 Q102.4,12 102.4,20 L102.4,43 Q101.5,49.5 99.5,49.8 L98.4,49.8 Z" fill="#1e08dc"/>
<path d="M50,33 L86.6,33 L86.6,60.6 L90.5,61 L91.4,58.8 L94.5,59.2 L97,61 L101.7,60.1 L110.8,52.7 L110.8,12 Q110.8,9.6 113.2,9.6 L137.3,9.6 L137.3,102.9 L113.3,102.9 L104,110.6 L38,110.6 Q32.3,110.6 32.3,104 L32.3,67 Q32.3,59.8 39,59.8 L44.5,59.8 L45.2,62 L48.4,62.2 L49.8,60.5 L49.8,54.6 Z" fill="url(#bodyC)"/>
<rect x="40.6" y="33" width="9.6" height="21.4" fill="url(#fringeC)"/>
<rect x="86.4" y="33" width="9.2" height="21.4" fill="url(#fringeC)"/>
<rect x="44.5" y="36" width="6" height="17" fill="#4f66ea" opacity="0.8"/>
<rect x="86.2" y="36" width="5.4" height="17" fill="#4f66ea" opacity="0.8"/>
<ellipse cx="58" cy="40" rx="5" ry="3" fill="#4a62ea" opacity="0.45"/>
<path d="M39.6,26 h5" stroke="#9fb0f4" stroke-width="0.9"/>
<path d="M92.8,26 h5" stroke="#9fb0f4" stroke-width="0.9"/>
<ellipse cx="66" cy="103" rx="5" ry="6" fill="#3a55e6" opacity="0.38"/>
<ellipse cx="80" cy="104" rx="3" ry="5" fill="#3a55e6" opacity="0.3"/>
<ellipse cx="100" cy="78" rx="8" ry="6" fill="#2c40e0" opacity="0.35"/>
<ellipse cx="93" cy="63" rx="5" ry="3" fill="#5878ee" opacity="0.45"/></g>
<rect x="369.5" y="372.6" width="132.6" height="109.6" fill="none" stroke="#808080" stroke-width="1"/>
<path d="M382.8,482.20000000000005 v-1.8 M382.8,372.6 v1.8" stroke="#808080" stroke-width="0.8"/>
<path d="M409.3,482.20000000000005 v-1.8 M409.3,372.6 v1.8" stroke="#808080" stroke-width="0.8"/>
<path d="M435.8,482.20000000000005 v-1.8 M435.8,372.6 v1.8" stroke="#808080" stroke-width="0.8"/>
<path d="M462.3,482.20000000000005 v-1.8 M462.3,372.6 v1.8" stroke="#808080" stroke-width="0.8"/>
<path d="M488.8,482.20000000000005 v-1.8 M488.8,372.6 v1.8" stroke="#808080" stroke-width="0.8"/>
<rect x="509.8" y="372.6" width="12.6" height="109.6" fill="url(#cbB)" stroke="#999" stroke-width="0.6"/>
<text x="527.8" y="376.7" font-size="11.7" fill="#2a2a2a" stroke="#2a2a2a" stroke-width="0.28">20</text>
<text x="527.8" y="404.7" font-size="11.7" fill="#2a2a2a" stroke="#2a2a2a" stroke-width="0.28">15</text>
<text x="527.8" y="432.6" font-size="11.7" fill="#2a2a2a" stroke="#2a2a2a" stroke-width="0.28">10</text>
<text x="527.8" y="460.6" font-size="11.7" fill="#2a2a2a" stroke="#2a2a2a" stroke-width="0.28">5</text>
<text x="527.8" y="488.5" font-size="11.7" fill="#2a2a2a" stroke="#2a2a2a" stroke-width="0.28">0</text>
<text x="535.6" y="365.8" font-size="11.8" fill="#262626" stroke="#262626" stroke-width="0.28" text-anchor="middle">Relative error / %</text>
<text x="81.7" y="499.9" font-size="13" fill="#2a2a2a" stroke="#2a2a2a" stroke-width="0.28" text-anchor="middle">-0.4</text>
<text x="108.9" y="499.9" font-size="13" fill="#2a2a2a" stroke="#2a2a2a" stroke-width="0.28" text-anchor="middle">-0.2</text>
<text x="136.8" y="499.9" font-size="13" fill="#2a2a2a" stroke="#2a2a2a" stroke-width="0.28" text-anchor="middle">0</text>
<text x="164.2" y="499.9" font-size="13" fill="#2a2a2a" stroke="#2a2a2a" stroke-width="0.28" text-anchor="middle">0.2</text>
<text x="192" y="499.9" font-size="13" fill="#2a2a2a" stroke="#2a2a2a" stroke-width="0.28" text-anchor="middle">0.4</text>
<text x="63" y="389.90000000000003" font-size="13.6" fill="#2a2a2a" stroke="#2a2a2a" stroke-width="0.28" text-anchor="end">0.2</text>
<text x="63" y="424.8" font-size="13.6" fill="#2a2a2a" stroke="#2a2a2a" stroke-width="0.28" text-anchor="end">0</text>
<text x="63" y="459.6" font-size="13.6" fill="#2a2a2a" stroke="#2a2a2a" stroke-width="0.28" text-anchor="end">-0.2</text>
<text x="136.8" y="517.4" font-size="14.6" fill="#2a2a2a" stroke="#2a2a2a" stroke-width="0.28" text-anchor="middle">x/m</text>
<text transform="translate(35.1,425.8) rotate(-90)" font-size="14.6" fill="#2a2a2a" stroke="#2a2a2a" stroke-width="0.28" text-anchor="middle">y/m</text>
<text x="381.7" y="499.9" font-size="13" fill="#2a2a2a" stroke="#2a2a2a" stroke-width="0.28" text-anchor="middle">-0.4</text>
<text x="408.7" y="499.9" font-size="13" fill="#2a2a2a" stroke="#2a2a2a" stroke-width="0.28" text-anchor="middle">-0.2</text>
<text x="435.8" y="499.9" font-size="13" fill="#2a2a2a" stroke="#2a2a2a" stroke-width="0.28" text-anchor="middle">0</text>
<text x="462.8" y="499.9" font-size="13" fill="#2a2a2a" stroke="#2a2a2a" stroke-width="0.28" text-anchor="middle">0.2</text>
<text x="490.2" y="499.9" font-size="13" fill="#2a2a2a" stroke="#2a2a2a" stroke-width="0.28" text-anchor="middle">0.4</text>
<text x="363.4" y="390.6" font-size="13.6" fill="#2a2a2a" stroke="#2a2a2a" stroke-width="0.28" text-anchor="end">0.2</text>
<text x="363.4" y="425.6" font-size="13.6" fill="#2a2a2a" stroke="#2a2a2a" stroke-width="0.28" text-anchor="end">0</text>
<text x="363.4" y="460.3" font-size="13.6" fill="#2a2a2a" stroke="#2a2a2a" stroke-width="0.28" text-anchor="end">-0.2</text>
<text x="436.8" y="517.4" font-size="14.6" fill="#2a2a2a" stroke="#2a2a2a" stroke-width="0.28" text-anchor="middle">x/m</text>
<text transform="translate(335.1,425.8) rotate(-90)" font-size="14.6" fill="#2a2a2a" stroke="#2a2a2a" stroke-width="0.28" text-anchor="middle">y/m</text>
<text x="194" y="335.3" font-size="11.6" fill="#1f1f1f" textLength="211" lengthAdjust="spacingAndGlyphs">(a) Pressure variation at the throttle holes</text>
<text x="22" y="545.3" font-size="11.6" fill="#1f1f1f" textLength="255" lengthAdjust="spacingAndGlyphs">(b) Pressure distribution of CFD simulation when</text>
<text x="31" y="587.3" font-size="11.6" fill="#1f1f1f" textLength="238" lengthAdjust="spacingAndGlyphs">outlet pressure = 1.2 MPa and travel = 80 mm</text>
<text x="319" y="545.3" font-size="11.6" fill="#1f1f1f" textLength="262" lengthAdjust="spacingAndGlyphs">(c) Error distribution of ROM-Kriging when outlet</text>
<text x="348.5" y="587.3" font-size="11.6" fill="#1f1f1f" textLength="199" lengthAdjust="spacingAndGlyphs">pressure = 1.2 MPa and travel = 80 mm</text>
</g>
<g id="watermark">
<rect x="-21.4" y="-21.4" width="42.8" height="42.8" rx="8" transform="translate(452.7,563.7) rotate(45)" fill="#e4473b" opacity="0.93"/>
<path d="M438.7,550.4 L463.0,550.4 Q471.7,551.1 471.0,558.7 Q469.9,568.0 459.0,568.4 L454.5,568.4 L455.5,564.4 L459.0,564.1 Q464.1,563.3 464.1,558.7 Q463.8,556.1 460.3,556.0 L453.9,556.0 L448.3,579.6 L441.4,579.6 L447.7,556.0 L435.3,556.0 Z" fill="#fff"/>
<path d="M453.7,573.5 Q455.3,572.9 455.8,576.0 L457.9,586.5 Q461.9,576.7 468.3,571.1" fill="none" stroke="#fff" stroke-width="3.8" stroke-linecap="round" stroke-linejoin="round"/>
<path d="M453.7,573.5 Q455.3,572.9 455.8,576.0 L457.9,586.5 Q461.9,576.7 468.3,571.1" fill="none" stroke="#b02a30" stroke-width="1.9" stroke-linecap="round" stroke-linejoin="round"/>
<path d="M495.0,552.0 L495.0,569.4 Q495.0,571.0 492.0,570.2 M485.2,557.4 L491.6,557.4 Q490.0,565.0 484.8,569.8 M504.0,555.0 L497.6,561.4 M496.8,559.0 Q500.0,567.0 505.2,570.2 M508.0,553.4 L513.6,553.4 L513.6,569.4 L508.0,569.4 Z M508.0,561.4 L513.6,561.4 M516.4,553.8 L527.6,552.6 M517.2,555.4 L518.0,557.4 M521.6,555.0 L522.0,557.0 M526.8,554.6 L525.2,557.4 M516.0,559.0 L528.0,559.0 M515.2,562.6 L528.4,562.6 M520.8,559.0 Q520.0,567.0 515.2,570.6 M519.6,565.4 L526.4,565.4 Q524.4,569.0 519.2,571.0 M520.8,566.6 Q524.0,569.8 528.4,571.0 M530.8,552.2 L532.8,554.2 M531.6,556.2 L531.6,571.0 M535.2,553.4 L549.0,553.4 L549.0,569.4 Q549.0,571.0 546.4,570.6 M537.6,556.6 Q536.4,560.6 534.0,563.0 M536.0,560.6 L536.0,569.0 M538.0,560.6 L546.8,559.8 M541.6,556.2 Q542.4,565.0 546.8,568.6 M545.6,563.0 L540.0,568.6 M544.4,557.0 L546.0,558.2 M554.4,552.2 L556.8,554.6 M554.4,556.6 L554.4,571.0 M559.2,553.4 L571.6,553.4 L571.6,569.0 Q571.6,571.0 568.0,570.4 M577.2,571.0 L577.2,553.4 L594.0,553.4 L594.0,569.0 Q594.0,571.0 591.2,570.4 M580.0,557.4 L584.8,565.8 M584.8,556.6 Q584.0,563.4 579.6,567.4 M587.2,557.4 L591.6,565.8 M591.6,556.6 Q590.8,563.4 586.8,567.4" fill="none" stroke="#f09248" stroke-width="2.6" stroke-linejoin="miter"/>
<path d="M484.4,574 H595" stroke="#86b8b0" stroke-width="1.1"/>
<text x="484.4" y="583.4" font-family="Liberation Sans, sans-serif" font-weight="bold" font-size="8.6" fill="#2e8f64" textLength="110.6" lengthAdjust="spacingAndGlyphs">WWW.PVCPU.COM</text>
</g>
</g>
</svg>
</body></html>
